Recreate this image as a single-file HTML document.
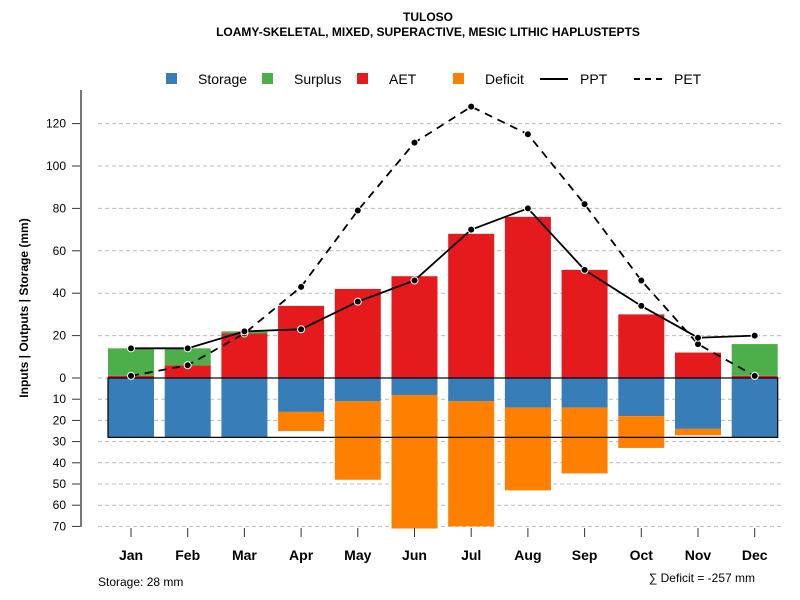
<!DOCTYPE html>
<html><head><meta charset="utf-8"><style>body{margin:0;background:#fff}svg{display:block;font-family:"Liberation Sans",sans-serif}</style></head>
<body>
<svg id="c" width="800" height="600">
<text x="428" y="21" text-anchor="middle" font-size="12" font-weight="bold">TULOSO</text>
<text x="428" y="36" text-anchor="middle" font-size="12" font-weight="bold">LOAMY-SKELETAL, MIXED, SUPERACTIVE, MESIC LITHIC HAPLUSTEPTS</text>
<text transform="translate(28,308) rotate(-90)" text-anchor="middle" font-size="12" font-weight="bold">Inputs | Outputs | Storage    (mm)</text>
<text x="98" y="586" font-size="12">Storage: 28 mm</text>
<text x="755" y="582" text-anchor="end" font-size="12">∑ Deficit = -257 mm</text>
<g id="grid"></g><g id="bars"></g><g id="lines"></g><g id="axes"></g><g id="legend"></g>
</svg>
<script>
const months=["Jan","Feb","Mar","Apr","May","Jun","Jul","Aug","Sep","Oct","Nov","Dec"];
const ppt=[14,14,22,23,36,46,70,80,51,34,19,20];
const pet=[1,6,21,43,79,111,128,115,82,46,16,1];
const aet=[1,6,21,34,42,48,68,76,51,30,12,1];
const surplus=[13,8,1,0,0,0,0,0,0,0,0,15];
const storage=[28,28,28,16,11,8,11,14,14,18,24,28];
const deficit=[0,0,0,9,37,63,59,39,31,15,3,0];
const upTicks=[0,20,40,60,80,100,120];
const downTicks=[10,20,30,40,50,60,70];
const storageCap=28;
const NS="http://www.w3.org/2000/svg";
const y0=378,k=2.12;
const yU=v=>y0-v*k, yD=v=>y0+v*k;
const xC=i=>131+i*56.7, bw=46;
function el(t,a,p){const e=document.createElementNS(NS,t);for(const q in a)e.setAttribute(q,a[q]);document.getElementById(p).appendChild(e);return e;}
upTicks.concat(downTicks.map(v=>-v)).forEach(v=>{
 const y=v>=0?yU(v):yD(-v);
 const g=el('line',{x1:98,x2:782,y1:y,y2:y,stroke:'#bbb','stroke-dasharray':'4,3'},'grid');
 
 
 const t=el('line',{x1:72,x2:81,y1:y,y2:y,stroke:'#333'},'axes');
 
 
 const l=el('text',{x:66,y:y+4,'text-anchor':'end','font-size':12},'axes');l.textContent=Math.abs(v);
 
 
});
const ax=el('line',{x1:81,x2:81,y1:90,y2:527,stroke:'#777','stroke-width':2},'axes');


function rect(x,y1,y2,fill,name){const r=el('rect',{x:x-bw/2,y:Math.min(y1,y2),width:bw,height:Math.abs(y2-y1),fill:fill},'bars');
 
 }
months.forEach((m,i)=>{
 const x=xC(i);
 rect(x,yU(0),yU(aet[i]),'#e41a1c','aet-bar-'+m.toLowerCase());
 if(surplus[i])rect(x,yU(aet[i]),yU(aet[i]+surplus[i]),'#4daf4a','surplus-bar-'+m.toLowerCase());
 rect(x,yD(0),yD(storage[i]),'#377eb8','storage-bar-'+m.toLowerCase());
 if(deficit[i])rect(x,yD(storage[i]),yD(storage[i]+deficit[i]),'#ff7f00','deficit-bar-'+m.toLowerCase());
 const t=el('line',{x1:x,x2:x,y1:528,y2:537,stroke:'#333'},'axes');
 
 
 const l=el('text',{x:x,y:560,'text-anchor':'middle','font-size':14,'font-weight':'bold'},'axes');l.textContent=m;
 
 
});
const sb=el('rect',{x:xC(0)-bw/2,y:y0,width:xC(11)-xC(0)+bw,height:storageCap*k,fill:'none',stroke:'#000','stroke-width':1.2},'bars');


function series(arr,dash,name){
 const p=el('polyline',{points:arr.map((v,i)=>xC(i)+','+yU(v)).join(' '),fill:'none',stroke:'#000','stroke-width':1.8,'stroke-dasharray':dash},'lines');
 
 
 arr.forEach((v,i)=>{const c=el('circle',{cx:xC(i),cy:yU(v),r:3.5,fill:'#000',stroke:'#fff','stroke-width':1},'lines');
 
 });
}
series(pet,'8,6','pet');series(ppt,'none','ppt');
const leg=[['sq','#377eb8','Storage',166],['sq','#4daf4a','Surplus',262],['sq','#e41a1c','AET',357],['sq','#ff7f00','Deficit',453],['ln','none','PPT',540],['ln','6,5','PET',634]];
leg.forEach(([t,c,n,x])=>{
 if(t==='sq'){const r=el('rect',{x:x,y:73,width:11,height:11,fill:c},'legend');
  
  }
 else{const l=el('line',{x1:x,x2:x+28,y1:79,y2:79,stroke:'#000','stroke-width':2,'stroke-dasharray':c},'legend');
  
  }
 const tx=el('text',{x:t==='sq'?x+32:x+40,y:84,'font-size':14},'legend');tx.textContent=n;
 
 
});
</script>
</body></html>
